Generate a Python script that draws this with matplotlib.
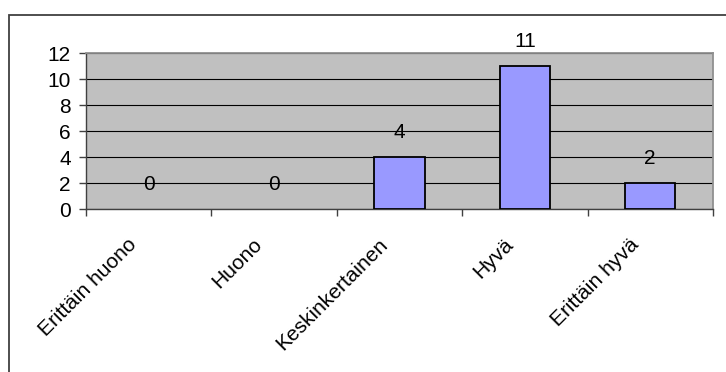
import matplotlib.pyplot as plt
from matplotlib.patches import Rectangle
from matplotlib.transforms import ScaledTranslation
import numpy as np

categories = ['Erittäin huono', 'Huono', 'Keskinkertainen', 'Hyvä', 'Erittäin hyvä']
counts = [0, 0, 4, 11, 2]
y_ticks = [0, 2, 4, 6, 8, 10, 12]

plt.rcParams['font.family'] = ['Liberation Sans', 'DejaVu Sans']

fig = plt.figure(figsize=(7.26, 3.72), dpi=100)
ax = fig.add_axes([0.1185, 0.438, 0.8635, 0.4195])

# chart frame (right and bottom edges fall outside the image)
fig.patches.append(Rectangle((9 / 726, -0.1), 1.2, 1 - 15 / 372 + 0.1,
                             transform=fig.transFigure, fill=False,
                             edgecolor='#404040', linewidth=1.3))

ax.set_facecolor('#C0C0C0')
x = np.arange(len(categories))
bars = ax.bar(x, counts, width=0.4, color='#9999FF', edgecolor='black',
              linewidth=1.3, zorder=3)
for b, v in zip(bars, counts):
    if v == 0:
        b.set_linewidth(0)

for xi, v in zip(x, counts):
    ax.annotate(str(v), (xi, v), xytext=(0, 10.5), textcoords='offset points',
                ha='center', va='bottom', fontsize=15)

ax.set_xlim(-0.5, len(categories) - 0.5)
ax.set_ylim(0, 12)
ax.set_yticks(y_ticks)
ax.yaxis.grid(True, color='black', linewidth=0.8, zorder=0)
ax.set_axisbelow(True)

# category labels: rotated, set a little left of the category centre like Excel does
ax.set_xticks(x)
ax.set_xticklabels([])
label_tr = ax.get_xaxis_transform() + ScaledTranslation(-0.08, -0.26, fig.dpi_scale_trans)
for xi, name in zip(x, categories):
    ax.text(xi, 0, name, transform=label_tr, rotation=45, ha='right', va='top',
            fontsize=15)
ax.set_xticks(np.arange(len(categories) + 1) - 0.5, minor=True)
ax.tick_params(axis='x', which='major', length=0)
ax.tick_params(axis='x', which='minor', length=5, color='#404040', width=1)
ax.tick_params(axis='y', length=5, color='#404040', width=1, pad=6, labelsize=15)

for side in ['left', 'bottom']:
    ax.spines[side].set_color('#404040')
    ax.spines[side].set_linewidth(1)
for side in ['top', 'right']:
    ax.spines[side].set_color('#909090')
    ax.spines[side].set_linewidth(1.3)

fig.savefig('out.png', dpi=100)
